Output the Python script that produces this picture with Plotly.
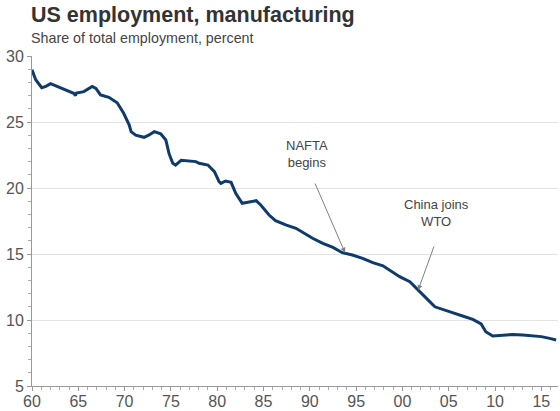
import plotly.graph_objects as go

years = [1960.0, 1960.4, 1961.05, 1961.5, 1962.0, 1963.3, 1964.5, 1964.7, 1964.8, 1965.6,
         1966.5, 1966.9, 1967.4, 1968.3, 1969.2, 1969.9, 1970.5, 1970.7, 1971.2, 1972.1,
         1972.6, 1973.2, 1973.9, 1974.45, 1974.8, 1975.2, 1975.5, 1976.1, 1977.0, 1977.7,
         1978.05, 1979.0, 1979.7, 1980.2, 1980.4, 1980.9, 1981.5, 1982.0, 1982.7, 1983.3,
         1984.2, 1984.7, 1985.6, 1986.3, 1987.4, 1988.5, 1989.4, 1990.3, 1991.4, 1992.5,
         1993.5, 1994.6, 1995.7, 1996.8, 1997.9, 1998.6, 1999.7, 2000.8, 2001.65, 2002.6,
         2003.5, 2004.4, 2005.4, 2006.5, 2007.6, 2008.5, 2009.0, 2009.75, 2010.8, 2011.9,
         2013.0, 2014.1, 2015.0, 2015.9, 2016.6]
share = [28.95, 28.2, 27.6, 27.7, 27.9, 27.55, 27.17, 27.0, 27.2, 27.3,
         27.7, 27.55, 27.05, 26.87, 26.46, 25.66, 24.77, 24.27, 24.0, 23.84,
         24.0, 24.27, 24.1, 23.64, 22.6, 21.87, 21.74, 22.1, 22.06, 22.0,
         21.87, 21.74, 21.24, 20.48, 20.35, 20.53, 20.43, 19.6, 18.84, 18.92,
         19.04, 18.71, 17.95, 17.53, 17.2, 16.95, 16.57, 16.19, 15.8, 15.5,
         15.1, 14.92, 14.67, 14.34, 14.11, 13.79, 13.28, 12.9, 12.27, 11.64,
         11.0, 10.81, 10.56, 10.3, 10.05, 9.7, 9.11, 8.79, 8.86, 8.9,
         8.86, 8.79, 8.74, 8.61, 8.48]

x_tickvals = [1960, 1965, 1970, 1975, 1980, 1985, 1990, 1995, 2000, 2005, 2010, 2015]
x_ticktext = ["60", "65", "70", "75", "80", "85", "90", "95", "00", "05", "10", "15"]
y_tickvals = [5, 10, 15, 20, 25, 30]

title = "US employment, manufacturing"
subtitle = "Share of total employment, percent"
events = [
    {"text": "NAFTA<br>begins", "x": 1993.8, "y": 15.1, "ax": 1990.5, "ay": 20.45, "tx": 1989.7, "ty": 22.58},
    {"text": "China joins<br>WTO", "x": 2001.7, "y": 12.27, "ax": 2003.46, "ay": 15.68, "tx": 2003.7, "ty": 18.14},
]

FONT = "Liberation Sans, Arial, sans-serif"

fig = go.Figure()
fig.add_trace(go.Scatter(x=years, y=share, mode="lines",
                         line=dict(color="#0e3a6c", width=3), hoverinfo="skip"))

annotations = [
    dict(text="<b>" + title + "</b>", xref="paper", yref="paper", x=-0.005, y=1.124,
         xanchor="left", yanchor="middle", showarrow=False,
         font=dict(family=FONT, size=21.5, color="#333333")),
    dict(text=subtitle, xref="paper", yref="paper", x=-0.005, y=1.0545,
         xanchor="left", yanchor="middle", showarrow=False,
         font=dict(family=FONT, size=14.3, color="#444444")),
]
for e in events:
    annotations.append(dict(x=e["x"], y=e["y"], ax=e["ax"], ay=e["ay"], xref="x", yref="y",
                            axref="x", ayref="y", text="", showarrow=True, arrowhead=2,
                            arrowsize=1, arrowwidth=1, arrowcolor="#808080"))
    annotations.append(dict(x=e["tx"], y=e["ty"], xref="x", yref="y", text=e["text"],
                            showarrow=False, xanchor="center", yanchor="middle",
                            font=dict(family=FONT, size=13, color="#444444")))

fig.update_layout(
    width=560, height=411,
    margin=dict(l=32, r=2, t=56, b=25, autoexpand=False),
    paper_bgcolor="white", plot_bgcolor="white",
    showlegend=False,
    font=dict(family=FONT, color="#555555"),
    annotations=annotations,
    xaxis=dict(range=[1960, 2016.8], tickvals=x_tickvals, ticktext=x_ticktext,
               automargin=False, ticklabelstandoff=-3,
               showgrid=False, zeroline=False, showline=True, linecolor="#999999", linewidth=1,
               ticks="outside", ticklen=4, tickcolor="#999999",
               tickfont=dict(size=16, color="#555555"),
               minor=dict(dtick=1, ticks="outside", ticklen=3, tickcolor="#aaaaaa")),
    yaxis=dict(range=[5, 30], tickvals=y_tickvals, automargin=False,
               showgrid=True, gridcolor="#e3e3e3", gridwidth=1, zeroline=False,
               showline=True, linecolor="#999999", linewidth=1,
               ticks="outside", ticklen=4, tickcolor="#999999",
               tickfont=dict(size=16, color="#555555"),
               minor=dict(dtick=1, ticks="outside", ticklen=3, tickcolor="#aaaaaa", showgrid=False)),
)

fig.write_html("out.html", config={"displayModeBar": False},
               post_script="document.body.style.margin='0';document.body.style.overflow='hidden';")
